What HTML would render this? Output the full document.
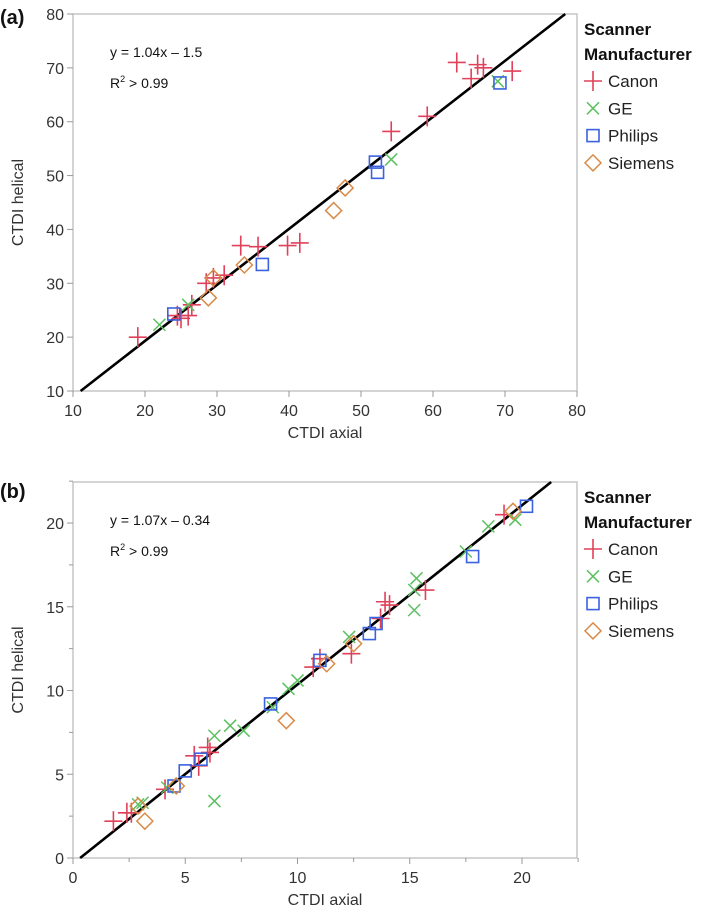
<!DOCTYPE html>
<html><head><meta charset="utf-8"><style>
body{margin:0;background:#fff;width:709px;height:914px;overflow:hidden}
svg{font-family:"Liberation Sans",sans-serif}
.tick{font-size:16px;fill:#333}
.ttl{font-size:16px;fill:#333}
.leg{font-size:17px;fill:#222}
.legh{font-size:17px;font-weight:bold;fill:#111}
.eq{font-size:14px;fill:#111}
</style></head><body>
<svg id="chart" width="709" height="914"></svg>
<script>
// Panel (a) data
const aCanonX=[19,24.5,25,26,26.5,28.5,29.5,31,33.3,35.7,39.8,41.5,54.2,59.2,63.3,65.3,66.2,67,71];
const aCanonY=[20,24,23.5,24,26,30,31,31.5,37,36.8,37,37.5,58.2,61,71,68,70.6,70,69.4];
const aGEX=[22,26,54.2,69];
const aGEY=[22.3,26,53,67.5];
const aPhilipsX=[24,36.3,52,52.3,69.3];
const aPhilipsY=[24.3,33.5,52.5,50.6,67.2];
const aSiemensX=[28.8,29.5,33.8,46.2,47.8];
const aSiemensY=[27.3,31,33.4,43.5,47.7];
const aTicks=[10,20,30,40,50,60,70,80];
const aFit=[1.04,-1.5];
// Panel (b) data
const bCanonX=[1.8,2.4,2.6,4.1,5.4,5.6,6.0,6.1,10.7,11.0,12.4,13.7,13.9,14.1,15.7,19.2];
const bCanonY=[2.2,2.7,2.7,4.1,6.1,5.5,6.6,6.3,11.4,11.9,12.2,14.3,15.3,15.1,16.0,20.5];
const bGEX=[2.9,3.1,4.2,6.3,6.3,7.0,7.6,8.9,9.6,10.0,12.3,15.2,15.2,15.3,17.5,18.5,19.7];
const bGEY=[3.2,3.3,4.2,7.3,3.4,7.9,7.6,9.0,10.1,10.6,13.2,14.8,16.0,16.7,18.3,19.8,20.2];
const bPhilipsX=[4.5,5.0,5.7,8.8,11.0,13.2,13.5,17.8,20.2];
const bPhilipsY=[4.3,5.2,5.9,9.2,11.8,13.4,14.0,18.0,21.0];
const bSiemensX=[2.9,3.2,4.6,9.5,11.3,12.5,19.6];
const bSiemensY=[3.1,2.2,4.3,8.2,11.6,12.8,20.7];
const bTicks=[0,5,10,15,20];
const bMinor=[2.5,7.5,12.5,17.5,22.5];
const bFit=[1.07,-0.34];

const NS="http://www.w3.org/2000/svg";
const svg=document.getElementById('chart');
function mk(tag,attrs,parent,text){const e=document.createElementNS(NS,tag);for(const k in attrs)e.setAttribute(k,attrs[k]);if(text!==undefined)e.textContent=text;(parent||svg).appendChild(e);return e;}
const COL={canon:'#e0405a',ge:'#5cc060',philips:'#3a62e0',siemens:'#d88a48'};
function marker(g,kind,cx,cy){
  let e;
  if(kind==='canon'){e=mk('path',{d:`M${cx-9} ${cy}H${cx+9}M${cx} ${cy-10}V${cy+10}`,stroke:COL.canon,'stroke-width':1.6,fill:'none'},g);}
  else if(kind==='ge'){e=mk('path',{d:`M${cx-6} ${cy-6}L${cx+6} ${cy+6}M${cx-6} ${cy+6}L${cx+6} ${cy-6}`,stroke:COL.ge,'stroke-width':1.5,fill:'none'},g);}
  else if(kind==='philips'){e=mk('rect',{x:cx-6,y:cy-6,width:12,height:12,stroke:COL.philips,'stroke-width':1.6,fill:'none'},g);}
  else {e=mk('path',{d:`M${cx} ${cy-8}L${cx+8} ${cy}L${cx} ${cy+8}L${cx-8} ${cy}Z`,stroke:COL.siemens,'stroke-width':1.5,fill:'none'},g);}
  return e;
}
function panel(o){
  const g=mk('g',{});
  
  
  const sx=v=>o.L+(v-o.xmin)/(o.xmax-o.xmin)*(o.R-o.L);
  const sy=v=>o.B-(v-o.ymin)/(o.ymax-o.ymin)*(o.B-o.T);
  const fr=mk('rect',{x:o.L,y:o.T,width:o.R-o.L,height:o.B-o.T,fill:'none',stroke:'#bdbdbd','stroke-width':1.3},g);
  
  o.ticks.forEach(t=>{
    mk('line',{x1:sx(t),x2:sx(t),y1:o.B,y2:o.B+6,stroke:'#999'},g);
    const tx=mk('text',{x:sx(t),y:o.B+25,'text-anchor':'middle',class:'tick'},g,t);
    
    mk('line',{x1:o.L-6,x2:o.L,y1:sy(t),y2:sy(t),stroke:'#999'},g);
    const ty=mk('text',{x:o.L-9,y:sy(t)+6,'text-anchor':'end',class:'tick'},g,t);
    
  });
  (o.minor||[]).forEach(t=>{
    mk('line',{x1:sx(t),x2:sx(t),y1:o.B,y2:o.B+4,stroke:'#999'},g);
    mk('line',{x1:o.L-4,x2:o.L,y1:sy(t),y2:sy(t),stroke:'#999'},g);
  });
  const xt=mk('text',{x:(o.L+o.R)/2,y:o.B+47,'text-anchor':'middle',class:'ttl'},g,'CTDI axial');
  
  const yc=(o.T+o.B)/2;
  const yt=mk('text',{x:18,y:yc,'text-anchor':'middle',class:'ttl',transform:`rotate(-90 18 ${yc})`,dy:'5'},g,'CTDI helical');
  
  const lab=mk('text',{x:0,y:o.T+(o.labDy||10),'font-size':'20','font-weight':'bold',fill:'#111'},g,o.label);
  
  // fit line
  const x0=(o.ymin-o.fit[1])/o.fit[0], x1=(o.ymax-o.fit[1])/o.fit[0];
  const fl=mk('line',{x1:sx(x0),y1:sy(o.ymin),x2:sx(x1),y2:sy(o.ymax),stroke:'#000','stroke-width':2.6},g);
  
  const eq=mk('text',{x:o.L+37,y:o.T+43,class:'eq'},g,'y = '+o.fit[0]+'x \u2013 '+Math.abs(o.fit[1]));
  
  const r2=mk('text',{x:o.L+37,y:o.T+74,class:'eq'},g);
  
  r2.innerHTML='R<tspan dy="-6" font-size="9">2</tspan><tspan dy="6"> &gt; 0.99</tspan>';
  o.series.forEach(s=>{
    s.x.forEach((v,i)=>{
      const m=marker(g,s.kind,sx(v),sy(s.y[i]));
      
      
    });
  });
  // legend
  const lg=mk('g',{},g);
  
  mk('text',{x:584,y:o.T+21,class:'legh'},lg,'Scanner');
  mk('text',{x:584,y:o.T+46,class:'legh'},lg,'Manufacturer');
  const names=['Canon','GE','Philips','Siemens'],kinds=['canon','ge','philips','siemens'];
  names.forEach((n,i)=>{
    const y=o.T+67+i*27.3;
    const e=mk('g',{},lg);
    
    
    marker(e,kinds[i],593,y);
    mk('text',{x:608,y:y+6,class:'leg'},e,n);
  });
}
panel({name:'panel-a',label:'(a)',L:73,R:577,T:14,B:391,xmin:10,xmax:80,ymin:10,ymax:80,ticks:aTicks,fit:aFit,labDy:10,
  series:[{kind:'canon',x:aCanonX,y:aCanonY},{kind:'ge',x:aGEX,y:aGEY},{kind:'philips',x:aPhilipsX,y:aPhilipsY},{kind:'siemens',x:aSiemensX,y:aSiemensY}]});
panel({name:'panel-b',label:'(b)',L:73,R:577,T:482,B:858,xmin:0,xmax:22.45,ymin:0,ymax:22.45,ticks:bTicks,minor:bMinor,fit:bFit,labDy:16,
  series:[{kind:'canon',x:bCanonX,y:bCanonY},{kind:'ge',x:bGEX,y:bGEY},{kind:'philips',x:bPhilipsX,y:bPhilipsY},{kind:'siemens',x:bSiemensX,y:bSiemensY}]});
</script>
</body></html>
